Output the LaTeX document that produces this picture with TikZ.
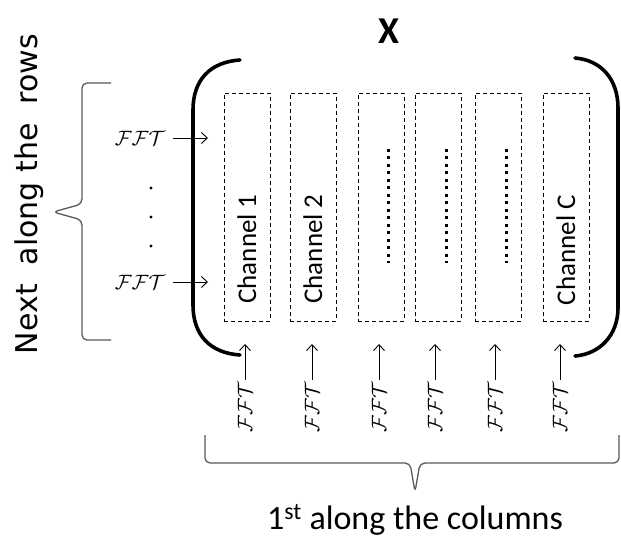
\documentclass[tikz,border=0pt]{standalone}
\usepackage{fontspec}
\setmainfont{Carlito}
\newfontfamily\rowfont{DejaVu Sans}
\usetikzlibrary{arrows.meta}

\begin{document}
\begin{tikzpicture}[
		x=1pt, y=-1pt,
		chan/.style={draw, dash pattern=on 4pt off 3pt, line width=0.9pt, minimum width=46pt, minimum height=228pt, inner sep=0pt},
		chanlabel/.style={rotate=90, anchor=base, font=\fontsize{27}{27}\selectfont},
		fft/.style={font=\fontsize{22}{22}\selectfont, inner sep=2pt},
		paren/.style={line width=3.6pt, line cap=round},
		brace/.style={draw=black!65, line width=1.3pt, rounded corners=5pt},
		>={Straight Barb[length=6pt, width=11pt]},
		arr/.style={->, line width=0.9pt}
		]
		\useasboundingbox (0,0) rectangle (621,537);
		
		% Title of the matrix
		\node[font=\fontsize{38}{38}\selectfont\bfseries, anchor=base] (xlab) at (389,44) {X};
		
		% Channel boxes
		\node[chan] (box1) at (247,207) {};
		\node[chan] (box2) at (313,207) {};
		\node[chan] (box3) at (381,207) {};
		\node[chan] (box4) at (438,207) {};
		\node[chan] (box5) at (498,207) {};
		\node[chan] (box6) at (566,207) {};
		
		\node[chanlabel] (c1) at (256,249) {Channel 1};
		\node[chanlabel] (c2) at (322,249) {Channel 2};
		\node[chanlabel] (cC) at (575,250) {Channel C};
		
		% Dotted columns in the middle boxes
		\foreach \x in {388,446,506}
		\draw[line width=3pt, dash pattern=on 3pt off 4.5pt] (\x,149) -- (\x,263);
		
		% Big brackets round the matrix
		\draw[paren] (240,60) .. controls (210,62) and (193,80) .. (193,110) -- (193,305)
		.. controls (193,335) and (210,353) .. (240,355);
		\draw[paren] (575,58) .. controls (600,60) and (618,78) .. (618,108) -- (618,308)
		.. controls (618,335) and (600,354) .. (575,356);
		
		% FFT along the rows
		\node[fft] (fl1) at (140,138) {$\mathcal{FFT}$};
		\node[fft] (fl2) at (140,282) {$\mathcal{FFT}$};
		\coordinate (tl1) at (208,138);
		\coordinate (tl2) at (208,282);
		\draw[arr, shorten <=6pt] (fl1) -- (tl1);
		\draw[arr, shorten <=6pt] (fl2) -- (tl2);
		\foreach \y in {188,217,246}
		\fill (151,\y) circle (1.6);
		
		% FFT along the columns
		\foreach \i/\x in {1/245, 2/312, 3/379, 4/435, 5/495, 6/560} {
			\node[fft, rotate=90] (fb\i) at (\x,407) {$\mathcal{FFT}$};
			\coordinate (tb\i) at (\x,344);
			\draw[arr] (fb\i) -- (tb\i);
		}
		
		% Braces
		\draw[brace] (111,83) -- (82,83) -- (82,204) -- (53,212) -- (82,220) -- (82,340) -- (111,340);
		\draw[brace] (205,435) -- (205,463) -- (410,463) -- (415,492) -- (420,463) -- (619,463) -- (619,435);
		
		\node[rotate=90, anchor=base, font=\rowfont\fontsize{30}{30}\selectfont] (rows) at (37,194) {Next\ \ along the\ \ rows};
		\node[anchor=base, font=\fontsize{34}{34}\selectfont] (cols) at (415,529) {1\textsuperscript{st} along the columns};
		
	\end{tikzpicture}
\end{document}
